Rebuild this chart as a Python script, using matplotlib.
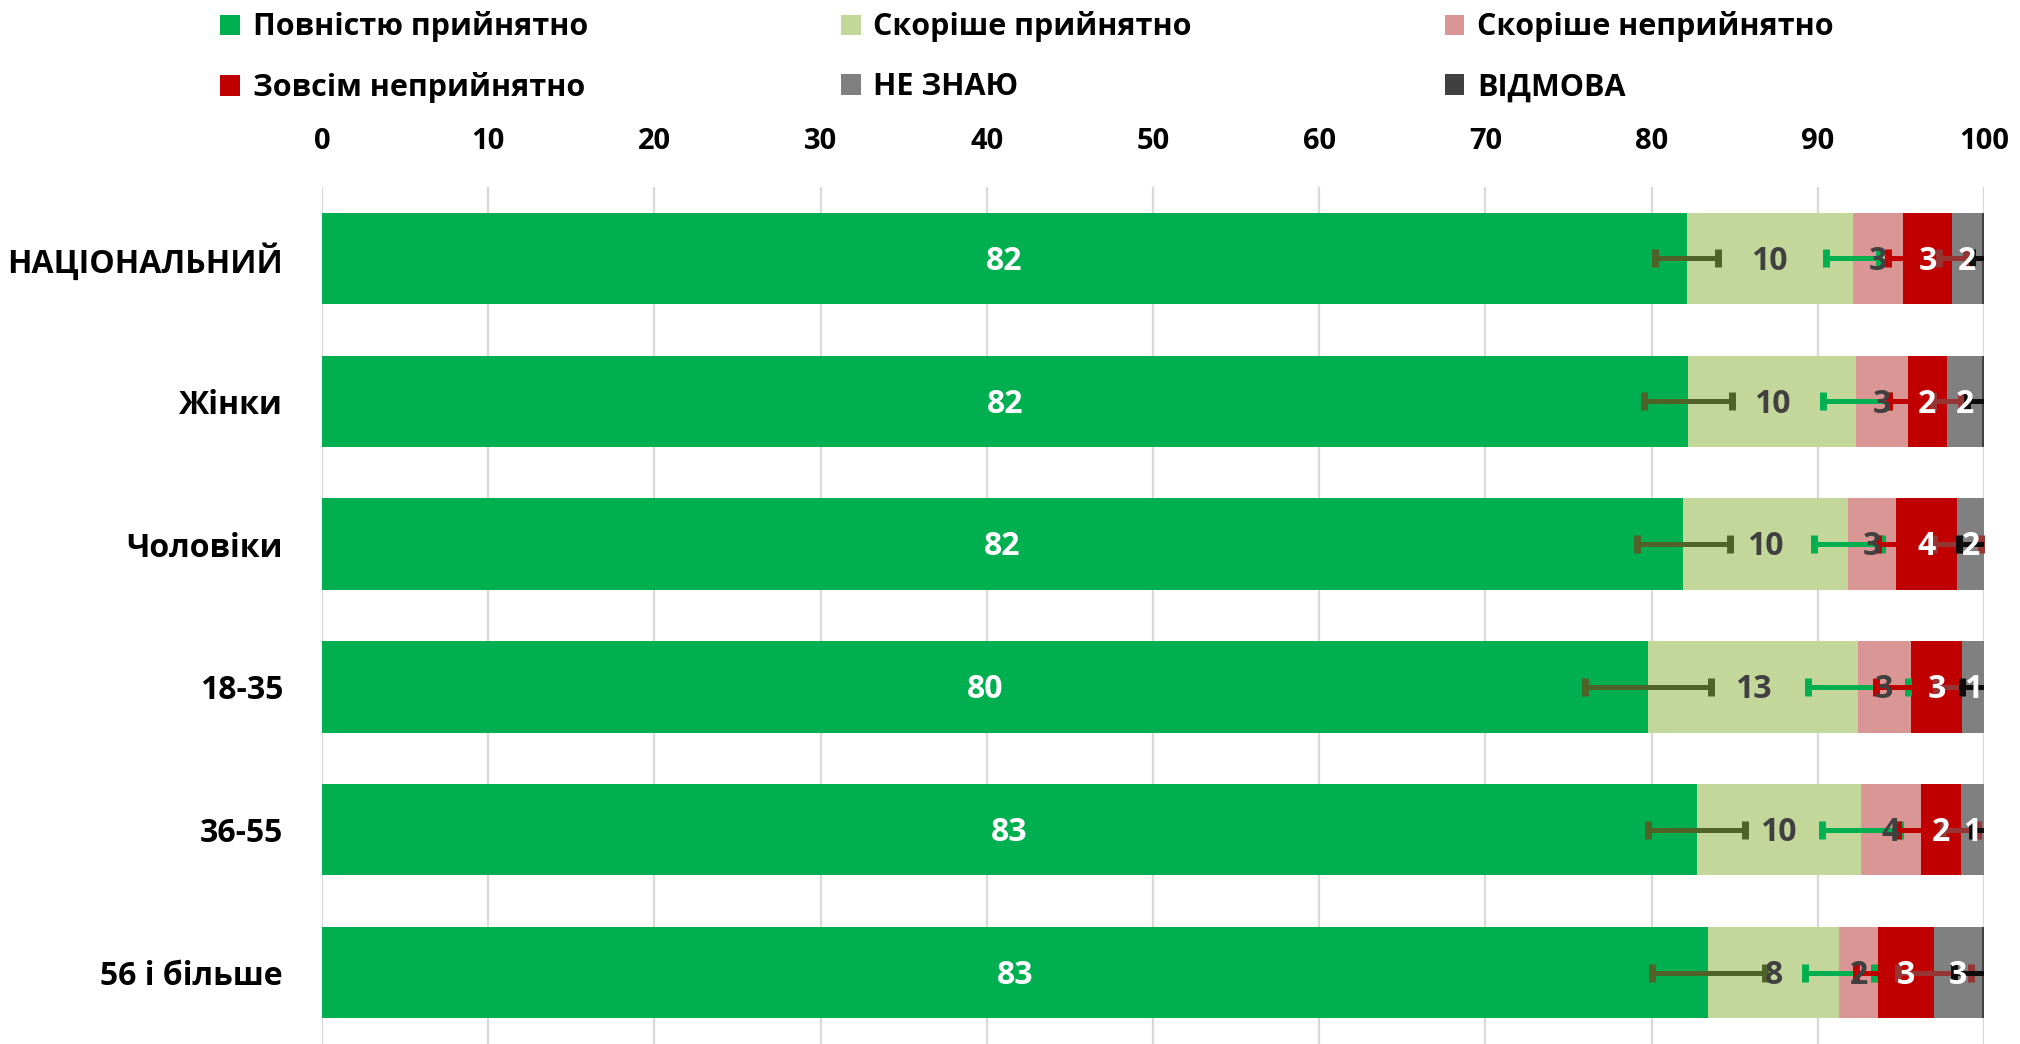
import numpy as np
import matplotlib
matplotlib.use('Agg')
import matplotlib.pyplot as plt

plt.rcParams['font.family'] = ['Open Sans', 'DejaVu Sans']
plt.rcParams['font.weight'] = 'bold'

# categories (top to bottom)
groups = ['НАЦІОНАЛЬНИЙ', 'Жінки', 'Чоловіки', '18-35', '36-55', '56 і більше']

# answer shares, %
full_ok = [82.1, 82.2, 81.9, 79.8, 82.7, 83.4]
rather_ok = [10.0, 10.1, 9.9, 12.6, 9.9, 7.9]
rather_not = [3.0, 3.1, 2.9, 3.2, 3.6, 2.3]
not_at_all = [3.0, 2.35, 3.7, 3.1, 2.4, 3.4]
dont_know = [1.8, 2.15, 1.6, 1.3, 1.4, 2.9]
refusal = [0.1, 0.1, 0.0, 0.0, 0.0, 0.1]

# error bar half widths at the end of each segment
err_full_ok = [1.9, 2.65, 2.8, 3.8, 2.9, 3.4]
err_rather_ok = [1.6, 2.0, 2.05, 3.0, 2.35, 2.1]
err_rather_not = [0.85, 1.1, 1.1, 2.1, 1.35, 1.3]
err_not_at_all = [0.8, 0.85, 1.4, 1.6, 1.05, 2.2]
err_dont_know = [0.6, 0.9, 1.5, 1.3, 0.7, 1.7]

series_names = ['Повністю прийнятно', 'Скоріше прийнятно', 'Скоріше неприйнятно',
                'Зовсім неприйнятно', 'НЕ ЗНАЮ', 'ВІДМОВА']
series = [full_ok, rather_ok, rather_not, not_at_all, dont_know, refusal]
errors = [err_full_ok, err_rather_ok, err_rather_not, err_not_at_all, err_dont_know, None]

colors = ['#00B050', '#C4D79B', '#DA9694', '#C00000', '#808080', '#404040']
err_colors = ['#4F6228', '#00B050', '#C00000', '#963634', '#0D0D0D', '#404040']
label_colors = ['white', '#404040', '#404040', 'white', 'white', 'white']

fig = plt.figure(figsize=(20.2, 10.44), dpi=100)
ax = fig.add_axes([0.1594, 0.0, 0.8228, 0.8209])

pos = np.arange(len(groups))
left = np.zeros(len(groups))
handles = []
ends = []
for vals, c, name in zip(series, colors, series_names):
    vals = np.array(vals)
    h = ax.barh(pos, vals, left=left, height=0.64, color=c, zorder=2, label=name)
    handles.append(h)
    left = left + vals
    ends.append(left.copy())

#error bars on top of all segments
for i, (e, ec) in enumerate(zip(errors, err_colors)):
    if e is None:
        continue
    ax.errorbar(ends[i], pos, xerr=e, fmt='none', ecolor=ec, elinewidth=3.6,
                capsize=6.8, capthick=5, zorder=3 + i * 0.1)

#value labels in the middle of each segment
for i, (vals, lc) in enumerate(zip(series, label_colors)):
    starts = ends[i] - np.array(vals)
    for p, s, v in zip(pos, starts, vals):
        if v < 0.5:
            continue
        ax.text(s + v / 2, p + 0.02, f'{v:.0f}', ha='center', va='center',
                color=lc, fontsize=23, fontweight='bold', zorder=6)

ax.set_xlim(0, 100)
ax.set_ylim(5.5, -0.5)
ax.set_xticks(np.arange(0, 101, 10))
ax.set_yticks(pos)
ax.set_yticklabels(groups)
ax.xaxis.tick_top()
ax.tick_params(axis='x', length=0, pad=22, labelsize=21)
ax.tick_params(axis='y', length=0, pad=28, labelsize=23)
for lab in ax.get_xticklabels() + ax.get_yticklabels():
    lab.set_fontweight('bold')

ax.set_axisbelow(True)
ax.xaxis.grid(True, color='#D9D9D9', linewidth=1.6, zorder=0)
for s in ax.spines.values():
    s.set_visible(False)

#legend fills row by row, matplotlib fills column by column
order = [0, 3, 1, 4, 2, 5]
fig.legend([handles[k] for k in order], [series_names[k] for k in order],
           loc='upper left', bbox_to_anchor=(0.1089, 0.989, 0.799, 0.0),
           mode='expand', ncol=3, frameon=False, borderpad=0, borderaxespad=0,
           handlelength=0.65, handleheight=0.65, handletextpad=0.42,
           labelspacing=0.98, prop={'weight': 'bold', 'size': 22})

fig.savefig('out.png', dpi=100)
